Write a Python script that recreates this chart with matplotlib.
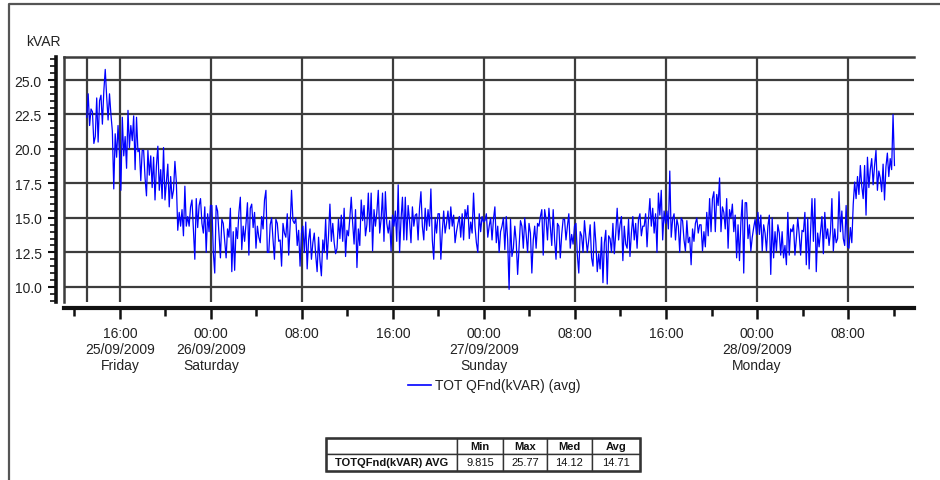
import matplotlib
matplotlib.use("Agg")
import matplotlib.pyplot as plt
import matplotlib.dates as mdates
from matplotlib.ticker import MultipleLocator, FixedLocator, FuncFormatter
from matplotlib.lines import Line2D
from matplotlib.patches import Rectangle
import pandas as pd

plt.rcParams['font.family'] = ['Liberation Sans', 'DejaVu Sans']

# ---- data -------------------------------------------------------------
unit_label = "kVAR"
series_label = "TOT QFnd(kVAR) (avg)"
start_time = "2009-09-25 13:05"
sample_step = "7.5min"

# reactive power averages, eight samples per hour
kvar_values = [
    # 25/09 13h .. 23h
    22.3, 24.0, 21.7, 22.9, 22.7, 20.4, 20.9, 23.7,
    20.5, 23.5, 23.9, 21.8, 24.2, 25.77, 23.8, 22.1,
    24.0, 22.5, 21.3, 17.1, 21.1, 19.4, 21.7, 19.7,
    17.0, 22.3, 19.5, 20.9, 18.6, 22.8, 20.1, 21.7,
    20.6, 22.4, 18.5, 22.3, 19.8, 20.0, 17.7, 19.9,
    19.9, 17.9, 16.6, 19.9, 18.1, 19.5, 17.2, 19.4,
    16.3, 18.8, 20.2, 17.0, 18.5, 16.4, 20.1, 16.3,
    17.6, 18.9, 15.8, 18.0, 16.4, 17.0, 19.1, 17.6,
    14.1, 15.4, 14.4, 15.6, 13.7, 17.3, 14.4, 15.1,
    14.4, 15.8, 16.3, 14.2, 12.0, 16.4, 14.3, 15.9,
    16.4, 14.6, 13.9, 15.8, 12.5, 15.3, 14.0, 15.9,
    # 26/09 00h .. 23h
    15.9, 12.5, 11.0, 15.9, 15.5, 13.8, 12.1, 14.9,
    14.6, 13.3, 12.1, 14.2, 13.6, 15.7, 11.1, 14.0,
    11.2, 14.3, 13.5, 15.4, 16.5, 12.7, 14.4, 13.3,
    14.6, 16.1, 12.3, 15.7, 16.0, 14.3, 15.4, 12.8,
    14.4, 13.6, 13.2, 15.1, 14.2, 16.3, 17.0, 12.5,
    12.5, 14.5, 15.0, 13.4, 12.0, 14.9, 14.6, 13.3,
    13.4, 11.5, 14.6, 13.9, 13.6, 15.3, 12.3, 14.4,
    17.0, 14.8, 14.6, 15.0, 13.0, 14.1, 11.5, 13.9,
    14.4, 12.5, 14.7, 11.3, 13.4, 14.2, 12.0, 13.2,
    13.9, 12.3, 11.1, 13.6, 11.9, 10.8, 13.4, 12.5,
    14.9, 12.0, 13.7, 16.0, 13.3, 14.6, 13.2, 12.4,
    12.8, 14.9, 13.5, 15.2, 13.3, 15.7, 12.2, 14.1,
    13.7, 15.0, 16.5, 14.6, 13.1, 15.6, 11.4, 14.2,
    13.0, 16.3, 14.8, 15.9, 13.7, 14.5, 16.8, 14.0,
    16.8, 12.6, 15.6, 14.4, 15.4, 17.0, 13.9, 14.9,
    16.8, 13.3, 16.9, 14.6, 13.9, 14.8, 12.6, 15.2,
    14.4, 15.5, 13.3, 17.4, 12.5, 14.9, 16.5, 13.4,
    16.5, 13.4, 15.9, 14.8, 13.2, 15.8, 14.4, 15.2,
    15.3, 13.4, 15.7, 16.9, 14.4, 13.4, 15.7, 14.1,
    15.6, 14.4, 17.1, 13.4, 12.0, 15.0, 13.9, 15.3,
    15.3, 12.0, 14.0, 15.5, 13.9, 14.6, 15.5, 14.2,
    15.8, 14.4, 15.2, 13.2, 14.0, 14.6, 15.1, 13.6,
    15.3, 13.4, 15.6, 15.0, 15.9, 13.5, 14.7, 13.9,
    16.8, 14.4, 13.2, 12.5, 15.3, 14.0, 15.1, 14.7,
    # 27/09 00h .. 23h
    14.8, 15.3, 13.6, 14.4, 15.0, 13.4, 14.9, 15.8,
    13.2, 14.4, 12.5, 14.0, 14.4, 15.0, 12.7, 15.1,
    13.4, 9.815, 14.9, 12.2, 12.8, 14.4, 13.3, 10.9,
    12.8, 14.8, 14.4, 12.8, 15.0, 13.8, 12.5, 14.6,
    13.9, 11.0, 13.4, 14.4, 12.8, 14.6, 14.4, 15.1,
    15.6, 12.3, 15.6, 14.9, 13.4, 15.7, 14.4, 13.0,
    15.6, 13.4, 12.0, 14.6, 14.4, 12.1, 13.8, 14.9,
    14.9, 13.4, 14.4, 15.3, 12.8, 13.8, 13.1, 14.4,
    14.6, 12.3, 11.0, 14.0, 13.7, 12.5, 14.8, 13.6,
    12.5, 13.4, 14.5, 12.1, 11.5, 14.7, 13.2, 11.1,
    12.4, 11.3, 13.6, 10.3, 13.2, 14.1, 10.2, 13.7,
    13.5, 12.5, 14.6, 12.4, 13.9, 15.7, 13.4, 14.5,
    15.1, 11.9, 14.4, 13.1, 12.8, 14.9, 12.2, 13.9,
    15.1, 13.4, 14.6, 12.8, 14.9, 15.3, 13.7, 14.4,
    14.4, 15.3, 12.9, 14.9, 16.4, 14.4, 15.7, 13.9,
    15.3, 12.5, 16.8, 15.2, 17.0, 13.4, 15.5, 14.6,
    15.5, 14.2, 18.4, 13.6, 14.9, 15.3, 13.4, 14.9,
    14.4, 12.5, 15.0, 14.8, 13.4, 12.6, 14.8, 13.2,
    13.6, 11.6, 14.2, 13.3, 14.6, 15.0, 13.9, 14.5,
    14.5, 12.6, 14.0, 12.9, 15.4, 13.7, 16.4, 14.0,
    16.4, 16.9, 14.0, 16.7, 15.9, 17.9, 14.0, 15.8,
    15.4, 14.2, 16.4, 12.8, 15.6, 15.0, 16.0, 14.0,
    15.2, 12.1, 14.5, 11.9, 14.7, 16.3, 11.0, 16.1,
    16.1, 13.5, 14.5, 12.6, 13.6, 14.3, 14.9, 13.8,
    # 28/09 00h .. 12h
    15.4, 13.8, 15.2, 12.6, 14.5, 13.9, 12.6, 14.4,
    15.2, 10.9, 15.0, 12.1, 14.0, 12.6, 14.5, 13.9,
    12.3, 14.0, 12.1, 13.0, 11.6, 15.4, 12.3, 14.2,
    14.0, 14.5, 12.3, 13.5, 15.0, 13.8, 12.3, 14.1,
    14.0, 15.4, 11.6, 15.0, 11.3, 14.0, 16.4, 13.3,
    16.4, 11.1, 13.9, 12.9, 14.0, 15.1, 12.4, 15.4,
    13.5, 14.2, 13.0, 14.0, 16.4, 12.6, 14.2, 13.2,
    13.5, 16.9, 14.0, 15.5, 13.5, 13.0, 15.9, 12.9,
    12.8, 14.3, 13.2, 16.0, 17.6, 16.4, 18.0, 16.7,
    18.8, 17.3, 16.4, 18.8, 15.2, 19.4, 17.2, 18.5,
    19.3, 17.4, 18.8, 19.9, 17.0, 18.4, 17.9, 16.9,
    18.9, 16.3, 18.7, 19.7, 18.0, 19.3, 18.5, 22.5,
    18.8,
]

x_range = ["2009-09-25 11:05", "2009-09-28 13:48"]
y_range = [8.9, 26.67]

major_tick_times = ["2009-09-25 16:00", "2009-09-26 00:00", "2009-09-26 08:00",
                    "2009-09-26 16:00", "2009-09-27 00:00", "2009-09-27 08:00",
                    "2009-09-27 16:00", "2009-09-28 00:00", "2009-09-28 08:00"]
major_tick_labels = ["16:00\n25/09/2009\nFriday", "00:00\n26/09/2009\nSaturday", "08:00",
                     "16:00", "00:00\n27/09/2009\nSunday", "08:00",
                     "16:00", "00:00\n28/09/2009\nMonday", "08:00"]
minor_tick_times = ["2009-09-25 12:00", "2009-09-25 20:00", "2009-09-26 04:00",
                    "2009-09-26 12:00", "2009-09-26 20:00", "2009-09-27 04:00",
                    "2009-09-27 12:00", "2009-09-27 20:00", "2009-09-28 04:00",
                    "2009-09-28 12:00"]
y_ticks = [10.0, 12.5, 15.0, 17.5, 20.0, 22.5, 25.0]

stats_row_label = "TOTQFnd(kVAR) AVG"
stats_headers = ["Min", "Max", "Med", "Avg"]
stats_values = ["9.815", "25.77", "14.12", "14.71"]

# ---- figure -----------------------------------------------------------
W, H = 940, 481
fig = plt.figure(figsize=(W / 100, H / 100), dpi=100)
fig.patch.set_facecolor("white")


def fx(px):
    return px / W


def fy(py):
    return 1 - py / H


ax = fig.add_axes([fx(64), fy(303), fx(914) - fx(64), fy(58) - fy(303)])

times = pd.date_range(start_time, periods=len(kvar_values), freq=sample_step)
ax.plot(times, kvar_values, color="#0000ff", lw=0.9, zorder=3)

ax.set_xlim(pd.Timestamp(x_range[0]), pd.Timestamp(x_range[1]))
ax.set_ylim(*y_range)

grid_color = "#3c3c3c"
ax.xaxis.set_major_locator(FixedLocator(mdates.date2num(pd.to_datetime(major_tick_times))))
ax.xaxis.set_minor_locator(FixedLocator(mdates.date2num(pd.to_datetime(minor_tick_times))))
ax.set_xticklabels(major_tick_labels, linespacing=1.15)
ax.set_yticks(y_ticks)
ax.yaxis.set_major_formatter(FuncFormatter(lambda v, p: f"{v:.1f}"))
ax.yaxis.set_minor_locator(MultipleLocator(0.5))

ax.grid(True, which="major", color=grid_color, lw=1.6, zorder=1)
ax.axvline(times[0], color=grid_color, lw=1.6, zorder=1)

ax.spines["right"].set_visible(False)
ax.spines["top"].set_color(grid_color)
ax.spines["top"].set_linewidth(1.8)
ax.spines["left"].set_position(("outward", 6))
ax.spines["left"].set_linewidth(2.6)
ax.spines["left"].set_color("#111111")
ax.spines["bottom"].set_position(("outward", 4))
ax.spines["bottom"].set_linewidth(3.0)
ax.spines["bottom"].set_color("#111111")

# inner left border of the plotting area
ax.plot([0, 0], [0, 1], transform=ax.transAxes, color=grid_color, lw=1.8,
        clip_on=False, zorder=4)

ax.tick_params(axis="x", which="major", length=8, width=1.8, pad=5,
               labelsize=10, colors="#111111")
ax.tick_params(axis="x", which="minor", length=6, width=1.8, colors="#111111")
ax.tick_params(axis="y", which="major", length=6, width=1.5, pad=4,
               labelsize=10, colors="#111111")
ax.tick_params(axis="y", which="minor", length=4, width=1.2, colors="#111111")
for lbl in ax.get_xticklabels():
    lbl.set_color("#222222")
for lbl in ax.get_yticklabels():
    lbl.set_color("#222222")

fig.text(fx(26), fy(42), unit_label, ha="left", va="center", fontsize=10,
         color="#222222")

# outer frame
fig.add_artist(Line2D([fx(9), fx(9), fx(940)], [fy(481), fy(5), fy(5)],
                      color="#555555", lw=1.6))

# legend
fig.add_artist(Line2D([fx(408), fx(431)], [fy(386), fy(386)], color="#0000ff", lw=1.2))
fig.text(fx(435), fy(386), series_label, ha="left", va="center", fontsize=10,
         color="#222222")

# statistics table
col_edges = [326, 457, 503, 547, 592, 640]
row_edges = [439, 455, 472]
for r in range(2):
    for c in range(len(col_edges) - 1):
        x0, x1 = col_edges[c], col_edges[c + 1]
        y0, y1 = row_edges[r], row_edges[r + 1]
        fig.add_artist(Rectangle((fx(x0), fy(y1)), fx(x1) - fx(x0), fy(y0) - fy(y1),
                                 facecolor="white", edgecolor="#333333", lw=1.0))
fig.add_artist(Rectangle((fx(col_edges[0]), fy(row_edges[-1])),
                         fx(col_edges[-1]) - fx(col_edges[0]),
                         fy(row_edges[0]) - fy(row_edges[-1]),
                         facecolor="none", edgecolor="#333333", lw=1.8))

for i, head in enumerate(stats_headers):
    cx = (col_edges[i + 1] + col_edges[i + 2]) / 2
    fig.text(fx(cx), fy((row_edges[0] + row_edges[1]) / 2), head, ha="center",
             va="center", fontsize=8, fontweight="bold", color="#111111")
    fig.text(fx(cx), fy((row_edges[1] + row_edges[2]) / 2), stats_values[i],
             ha="center", va="center", fontsize=8, color="#111111")
fig.text(fx((col_edges[0] + col_edges[1]) / 2), fy((row_edges[1] + row_edges[2]) / 2),
         stats_row_label, ha="center", va="center", fontsize=8, fontweight="bold",
         color="#111111")

fig.savefig("out.png", dpi=100)
